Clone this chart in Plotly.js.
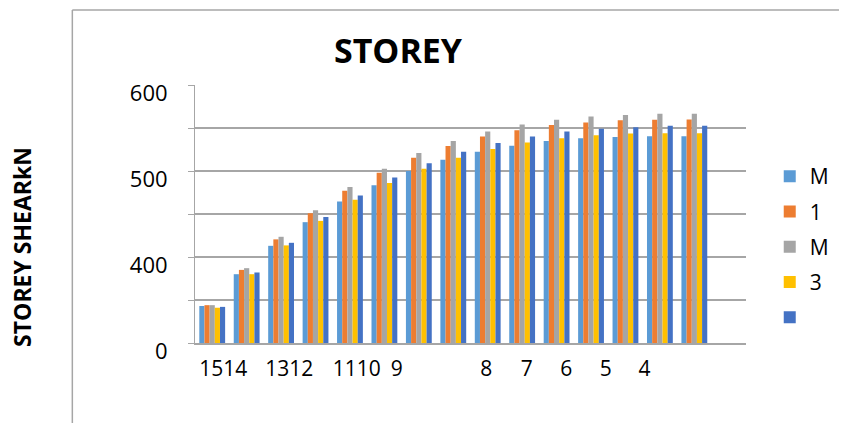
<!DOCTYPE html>
<html>
<head>
<meta charset="utf-8">
<script src="https://cdn.plot.ly/plotly-3.0.1.min.js"></script>
<style>html,body{margin:0;padding:0;background:#fff;}#chart{width:846px;height:423px;}</style>
</head>
<body>
<div id="chart"></div>
<script>
// Group index (16th slot on the category axis is empty)
const groups = [1, 2, 3, 4, 5, 6, 7, 8, 9, 10, 11, 12, 13, 14, 15];

// Series names as shown (clipped) in the legend
const seriesNames = ["M", "1", "M", "3", ""];

// Series values (axis units as drawn, 0..600)
const s1 = [86, 160, 226, 281, 329, 367, 400, 426, 445, 459, 470, 476, 479, 481, 481];
const s2 = [88, 170, 241, 302, 354, 396, 431, 458, 480, 495, 507, 513, 518, 519, 520];
const s3 = [88, 174, 247, 309, 363, 405, 442, 470, 492, 508, 519, 527, 530, 533, 533];
const s4 = [82, 160, 227, 284, 333, 372, 405, 431, 451, 466, 476, 483, 487, 488, 488];
const s5 = [84, 164, 233, 293, 343, 385, 418, 445, 465, 480, 492, 498, 502, 505, 505];

// Tick labels as drawn
const xTickText = ["1514", "1312", "1110", "9", "8", "7", "6", "5", "4"];
const yTickText = ["0", "", "400", "", "500", "", "600"];

const colors = ["#5B9BD5", "#ED7D31", "#A5A5A5", "#FFC000", "#4472C4"];
const seriesVals = [s1, s2, s3, s4, s5];

const traces = seriesVals.map((v, i) => ({
  type: "bar",
  x: groups,
  y: v,
  name: seriesNames[i],
  legendgroup: "g" + i,
  marker: { color: colors[i] },
  hoverinfo: "skip"
}));

const font = "'Open Sans', 'Noto Sans', sans-serif";
const grid = "#A6A6A6";

const layout = {
  width: 846,
  height: 423,
  margin: { l: 195, r: 94, t: 85, b: 80 },
  paper_bgcolor: "#ffffff",
  plot_bgcolor: "#ffffff",
  barmode: "group",
  bargap: 0.25,
  bargroupgap: 0,
  font: { family: font, color: "#000000", size: 21 },
  title: {
    text: "<b>STOREY</b>",
    font: { family: font, size: 34, color: "#000000" },
    x: 398 / 846, xanchor: "center", xref: "container",
    y: 1 - 51 / 423, yanchor: "middle", yref: "container"
  },
  xaxis: {
    range: [0.5, 16.5],
    tickmode: "array",
    tickvals: [1.32, 3.24, 5.2, 6.36, 8.96, 10.13, 11.28, 12.43, 13.55],
    ticktext: xTickText,
    ticks: "",
    showgrid: false,
    showline: true,
    linecolor: grid,
    linewidth: 1.5,
    zeroline: false,
    tickfont: { family: font, size: 21, color: "#000000" },
    ticklabelstandoff: 6,
    fixedrange: true
  },
  yaxis: {
    range: [0, 600],
    tickmode: "array",
    tickvals: [0, 100, 200, 300, 400, 500, 600],
    ticktext: yTickText,
    ticks: "outside",
    ticklen: 6,
    tickcolor: grid,
    showgrid: true,
    gridcolor: grid,
    gridwidth: 1.2,
    showline: true,
    linecolor: grid,
    zeroline: false,
    tickfont: { family: font, size: 22, color: "#000000" },
    ticklabelstandoff: 16,
    ticklabelshift: 8,
    fixedrange: true
  },
  legend: {
    x: (776 - 195) / 557, xanchor: "left",
    y: (343 - 156) / 258, yanchor: "top",
    font: { family: font, size: 21, color: "#000000" },
    tracegroupgap: 5,
    bgcolor: "rgba(0,0,0,0)"
  },
  annotations: [{
    text: "<b>STOREY SHEARkN</b>",
    textangle: -90,
    xref: "paper", yref: "paper",
    x: (20 - 195) / 557, y: (343 - 247) / 258,
    xanchor: "center", yanchor: "middle",
    showarrow: false,
    font: { family: font, size: 23, color: "#000000" }
  }],
  shapes: [
    { type: "line", xref: "paper", yref: "paper",
      x0: (71 - 195) / 557, x1: (846 - 195) / 557,
      y0: (343 - 10) / 258, y1: (343 - 10) / 258,
      line: { color: grid, width: 1.5 } },
    { type: "line", xref: "paper", yref: "paper",
      x0: (71 - 195) / 557, x1: (71 - 195) / 557,
      y0: (343 - 10) / 258, y1: (343 - 423) / 258,
      line: { color: grid, width: 1.5 } }
  ]
};

Plotly.newPlot("chart", traces, layout, { displayModeBar: false, staticPlot: true });
</script>
</body>
</html>
